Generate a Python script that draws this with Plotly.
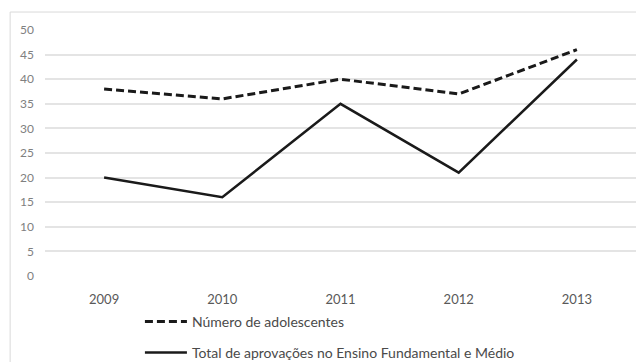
import plotly.graph_objects as go

anos = ["2009", "2010", "2011", "2012", "2013"]
adolescentes = [38, 36, 40, 37, 46]
aprovacoes = [20, 16, 35, 21, 44]
y_ticks = [0, 5, 10, 15, 20, 25, 30, 35, 40, 45, 50]

fig = go.Figure()
fig.add_trace(go.Scatter(
    x=anos, y=adolescentes, mode="lines", name="Número de adolescentes",
    line=dict(color="#1a1a1a", width=3, dash="8px,4px"), legend="legend"))
fig.add_trace(go.Scatter(
    x=anos, y=aprovacoes, mode="lines",
    name="Total de aprovações no Ensino Fundamental e Médio",
    line=dict(color="#1a1a1a", width=2.5), legend="legend2"))

font = dict(family="Lato, 'Open Sans', sans-serif", size=14, color="#4a4a4a")

fig.update_layout(
    width=636, height=362,
    margin=dict(l=45, r=0, t=30, b=86, autoexpand=False),
    paper_bgcolor="white", plot_bgcolor="white",
    font=font,
    showlegend=True,
    legend=dict(x=0.220, y=0.1105, xref="container", yref="container",
                xanchor="left", yanchor="middle",
                bgcolor="rgba(0,0,0,0)", font=font, itemwidth=42),
    legend2=dict(x=0.220, y=0.0249, xref="container", yref="container",
                 xanchor="left", yanchor="middle",
                 bgcolor="rgba(0,0,0,0)", font=font, itemwidth=42),
    xaxis=dict(type="category", range=[-0.5, 4.5], showgrid=False,
               showline=False, ticks="", zeroline=False,
               tickfont=dict(family="Lato, sans-serif", size=13, color="#595959"),
               ticklabelstandoff=14),
    yaxis=dict(range=[0, 50], tickvals=y_ticks, showgrid=True,
               gridcolor="#e4e4e4", gridwidth=1.5, zeroline=False,
               showline=False, ticks="",
               tickfont=dict(family="Lato, sans-serif", size=12, color="#808080"),
               ticklabelstandoff=10),
    shapes=[
        dict(type="line", xref="paper", yref="paper",
             x0=-0.059, x1=1.1, y0=1.073, y1=1.073,
             line=dict(color="#d9d9d9", width=1), layer="below"),
        dict(type="line", xref="paper", yref="paper",
             x0=-0.059, x1=-0.059, y0=1.073, y1=-0.5,
             line=dict(color="#d9d9d9", width=1), layer="below"),
    ],
)

fig.write_html("out.html")
